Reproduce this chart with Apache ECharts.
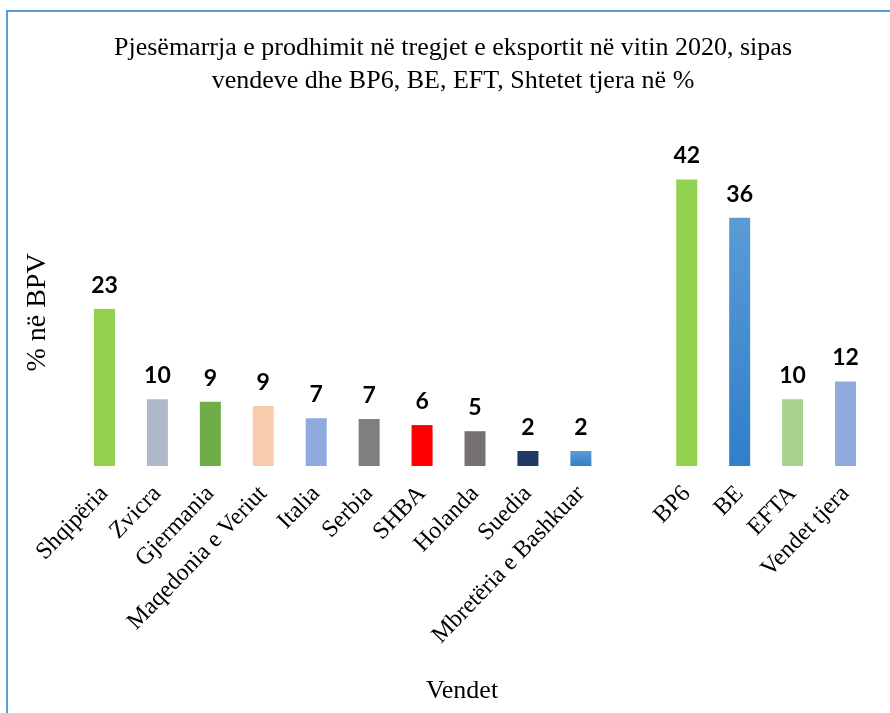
<!DOCTYPE html>
<html>
<head>
<meta charset="utf-8">
<script src="https://cdn.jsdelivr.net/npm/echarts@6/dist/echarts.min.js"></script>
<style>
  html, body { margin: 0; padding: 0; background: #fff; }
  #chart { width: 890px; height: 713px; }
</style>
</head>
<body>
<div id="chart"></div>
<script>
// kategoritë (bosh = hapësira mes vendeve dhe grupeve)
const categories = ['Shqipëria', 'Zvicra', 'Gjermania', 'Maqedonia e Veriut', 'Italia', 'Serbia', 'SHBA',
    'Holanda', 'Suedia', 'Mbretëria e Bashkuar', '', 'BP6', 'BE', 'EFTA', 'Vendet tjera'];
const values = [23, 9.8, 9.4, 8.8, 7.0, 6.9, 6.0, 5.1, 2.2, 2.2, null, 42, 36.4, 9.8, 12.4];
const barColors = ['#92D050', '#ADB9CA', '#70AD47', '#F8CBAD', '#8FAADC', '#7F7F7F', '#FF0000',
    '#767171', '#203864', 'grad', null, '#92D050', 'grad', '#A9D18E', '#8FAADC'];

const chart = echarts.init(document.getElementById('chart'));

const blueGrad = () => new echarts.graphic.LinearGradient(0, 0, 0, 1, [
    { offset: 0, color: '#5B9BD5' },
    { offset: 1, color: '#2F7FCA' }
]);

chart.setOption({
    backgroundColor: '#fff',
    title: {
        text: 'Pjesëmarrja e prodhimit në tregjet e eksportit në vitin 2020, sipas\nvendeve dhe BP6, BE, EFT, Shtetet tjera në %',
        left: 448,
        top: 27,
        textAlign: 'center',
        textStyle: {
            fontFamily: 'Liberation Serif',
            fontWeight: 'normal',
            fontSize: 26,
            lineHeight: 33,
            color: '#000'
        }
    },
    graphic: [{
        type: 'rect',
        shape: { x: 7, y: 11, width: 900, height: 720 },
        style: { fill: 'none', stroke: '#5B9BD5', lineWidth: 2 },
        silent: true
    }],
    grid: { left: 78, right: 18, top: 159, bottom: 247 },
    xAxis: {
        type: 'category',
        data: categories,
        axisLine: { show: false },
        axisTick: { show: false },
        axisLabel: {
            rotate: 46,
            interval: 0,
            margin: 24,
            fontFamily: 'Liberation Serif',
            fontSize: 24,
            color: '#000'
        },
        name: 'Vendet',
        nameLocation: 'middle',
        nameGap: 212,
        nameTextStyle: { fontFamily: 'Liberation Serif', fontSize: 26, color: '#000', padding: [0, 0, 0, -26] }
    },
    yAxis: {
        type: 'value',
        min: 0,
        max: 45,
        axisLine: { show: false },
        axisTick: { show: false },
        axisLabel: { show: false },
        splitLine: { show: false },
        name: '% në BPV',
        nameLocation: 'middle',
        nameRotate: 90,
        nameGap: 26,
        nameTextStyle: { fontFamily: 'Liberation Serif', fontSize: 28, color: '#000' }
    },
    series: [{
        type: 'bar',
        barWidth: 21,
        data: values.map((v, i) => v == null ? '-' : {
            value: v,
            itemStyle: { color: barColors[i] === 'grad' ? blueGrad() : barColors[i] }
        }),
        label: {
            show: true,
            position: 'top',
            distance: 12,
            formatter: p => Math.round(p.value),
            fontFamily: 'Lato',
            fontWeight: 'bold',
            fontSize: 23,
            color: '#000'
        }
    }]
});
</script>
</body>
</html>
